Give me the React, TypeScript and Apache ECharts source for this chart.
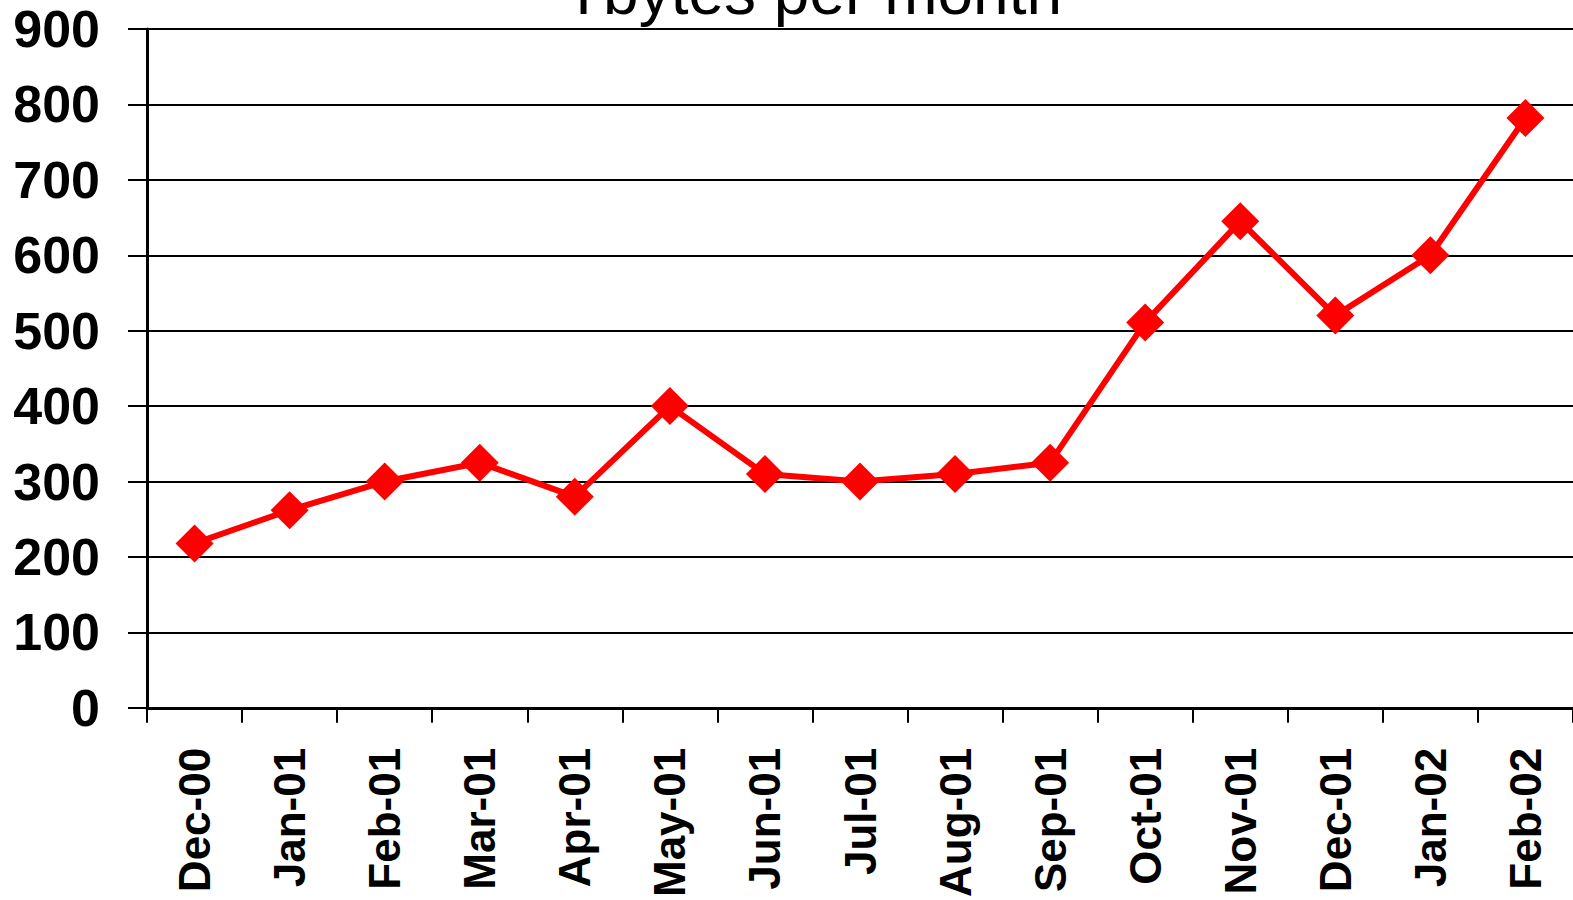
import React, { useEffect, useRef } from "react";
import * as echarts from "echarts";

const months = [
  "Dec-00", "Jan-01", "Feb-01", "Mar-01", "Apr-01", "May-01", "Jun-01", "Jul-01",
  "Aug-01", "Sep-01", "Oct-01", "Nov-01", "Dec-01", "Jan-02", "Feb-02",
];
const tbytes = [218, 262, 300, 325, 280, 400, 310, 300, 310, 325, 511, 645, 520, 600, 782];
const titleText = "Tbytes per month";

export default function App() {
  const ref = useRef<HTMLDivElement>(null);
  useEffect(() => {
    if (!ref.current) return;
    const chart = echarts.init(ref.current, null, { renderer: "svg" });
    chart.setOption({
      animation: false,
      backgroundColor: "#ffffff",
      graphic: [
        {
          type: "text",
          left: 564,
          top: -40,
          style: {
            text: titleText,
            font: "normal 64px 'Liberation Sans', Arial, sans-serif",
            fill: "#000000",
          },
        },
      ],
      grid: { left: 147, right: -2, top: 29, bottom: 187.5, containLabel: false },
      xAxis: {
        type: "category",
        data: months,
        boundaryGap: true,
        axisLine: { show: true, lineStyle: { color: "#000", width: 3 } },
        axisTick: { show: true, length: 15, lineStyle: { color: "#000", width: 2 }, alignWithLabel: false },
        axisLabel: {
          rotate: 90,
          margin: 40,
          interval: 0,
          color: "#000",
          fontSize: 44,
          fontWeight: "bold",
          fontFamily: "'Liberation Sans', Arial, sans-serif",
        },
        splitLine: { show: false },
      },
      yAxis: {
        type: "value",
        min: 0,
        max: 900,
        interval: 100,
        axisLine: { show: true, lineStyle: { color: "#000", width: 3 } },
        axisTick: { show: true, length: 19, lineStyle: { color: "#000", width: 2 } },
        axisLabel: {
          margin: 47,
          color: "#000",
          fontSize: 52,
          fontWeight: "bold",
          fontFamily: "'Liberation Sans', Arial, sans-serif",
        },
        splitLine: { show: true, lineStyle: { color: "#000", width: 2 } },
      },
      series: [
        {
          type: "line",
          data: tbytes,
          symbol: "diamond",
          symbolSize: 38,
          lineStyle: { color: "#ff0000", width: 6 },
          itemStyle: { color: "#ff0000" },
          z: 3,
        },
      ],
    });
    return () => chart.dispose();
  }, []);
  return (
    <div
      ref={ref}
      style={{ position: "fixed", left: 0, top: 0, width: 1573, height: 900, background: "#fff" }}
    />
  );
}
